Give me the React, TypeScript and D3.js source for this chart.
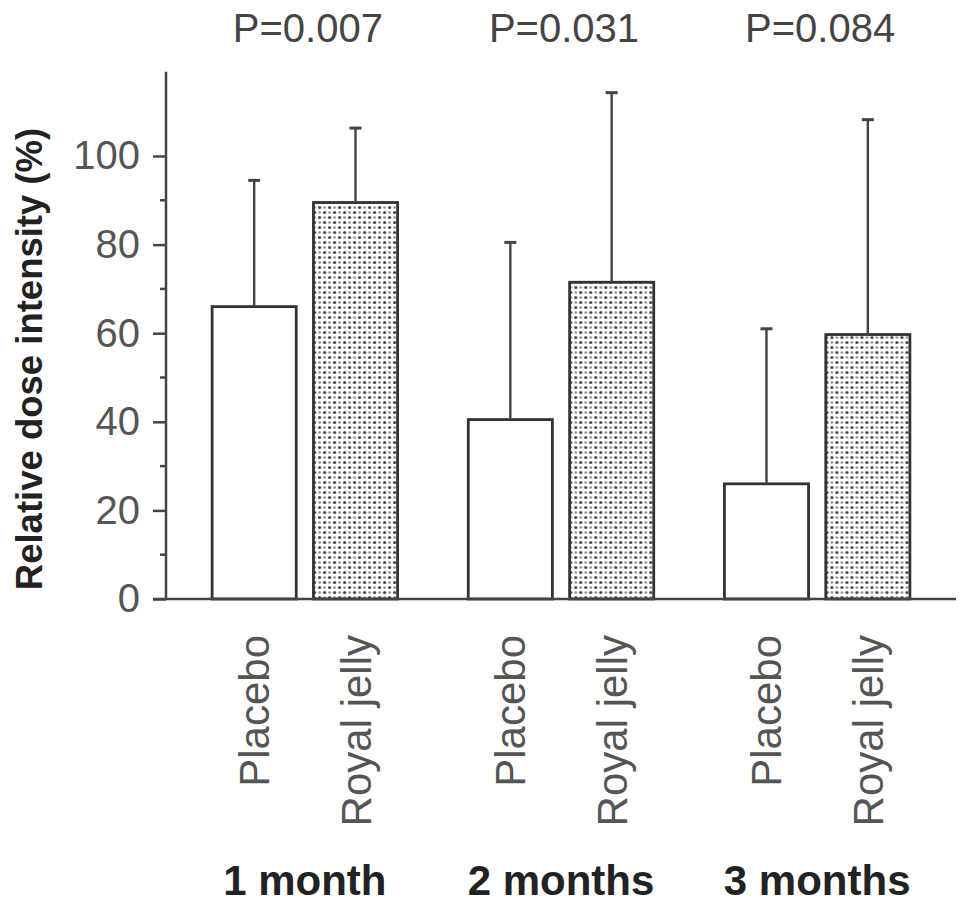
import React, { useEffect, useRef } from 'react';
import * as d3 from 'd3';

const groups = ['1 month', '2 months', '3 months'];
const treatments = ['Placebo', 'Royal jelly'];
const placeboMean = [66, 40.5, 26];
const placeboSD = [28.5, 40, 35];
const royalMean = [89.5, 71.5, 59.7];
const royalSD = [16.8, 42.8, 48.5];
const pValues = ['P=0.007', 'P=0.031', 'P=0.084'];
const majorTicks = [0, 20, 40, 60, 80, 100];
const minorTicks = [10, 30, 50, 70, 90];

interface BarDatum {
  group: string;
  treatment: string;
  mean: number;
  sd: number;
}

const App: React.FC = () => {
  const svgRef = useRef<SVGSVGElement>(null);

  useEffect(() => {
    if (!svgRef.current) return;
    const width = 969;
    const height = 911;
    const font = "'Liberation Sans', Arial, sans-serif";

    const data: BarDatum[] = groups.flatMap((g, i) => [
      { group: g, treatment: treatments[0], mean: placeboMean[i], sd: placeboSD[i] },
      { group: g, treatment: treatments[1], mean: royalMean[i], sd: royalSD[i] },
    ]);

    const axisX = 166;
    const svg = d3.select(svgRef.current);
    svg.selectAll('*').remove();
    svg.attr('width', width).attr('height', height);

    // dotted fill
    const pat = svg
      .append('defs')
      .append('pattern')
      .attr('id', 'dots')
      .attr('patternUnits', 'userSpaceOnUse')
      .attr('width', 10)
      .attr('height', 10);
    pat.append('rect').attr('width', 10).attr('height', 10).attr('fill', '#fff');
    [[2.5, 2.5], [7.5, 7.5]].forEach(([cx, cy]) =>
      pat.append('circle').attr('cx', cx).attr('cy', cy).attr('r', 1.6).attr('fill', '#444')
    );
    [[7.5, 2.5], [2.5, 7.5]].forEach(([cx, cy]) =>
      pat.append('circle').attr('cx', cx).attr('cy', cy).attr('r', 1.3).attr('fill', '#888')
    );

    const x0 = d3
      .scaleBand<string>()
      .domain(groups)
      .range([axisX, 956])
      .paddingInner(0.276)
      .paddingOuter(0.18);

    const x1 = d3
      .scaleBand<string>()
      .domain(treatments)
      .range([0, x0.bandwidth()])
      .paddingInner(0.17);

    const y = d3.scaleLinear().domain([0, 120]).range([599, 67.4]);

    // y axis
    const yAxis = svg.append('g').attr('transform', `translate(${axisX},0)`);
    yAxis
      .call(d3.axisLeft(y).tickValues(majorTicks).tickSize(13).tickPadding(13).tickFormat(d3.format('d')))
      .call((g) => g.select('.domain').remove());
    yAxis.selectAll('line').attr('stroke', '#444').attr('stroke-width', 2.5);
    yAxis
      .selectAll('text')
      .attr('font-family', font)
      .attr('font-size', 40)
      .attr('fill', '#555');
    yAxis
      .selectAll('.minor')
      .data(minorTicks)
      .enter()
      .append('line')
      .attr('x1', -6)
      .attr('x2', 0)
      .attr('y1', (d) => y(d))
      .attr('y2', (d) => y(d))
      .attr('stroke', '#444')
      .attr('stroke-width', 2.5);
    yAxis
      .append('line')
      .attr('x1', 0)
      .attr('x2', 0)
      .attr('y1', y(0))
      .attr('y2', y(119))
      .attr('stroke', '#444')
      .attr('stroke-width', 2.5);

    // bars
    const barG = svg
      .selectAll('.grp')
      .data(groups)
      .enter()
      .append('g')
      .attr('transform', (g) => `translate(${x0(g)},0)`);

    barG
      .selectAll('rect')
      .data((g) => data.filter((d) => d.group === g))
      .enter()
      .append('rect')
      .attr('x', (d) => x1(d.treatment)!)
      .attr('y', (d) => y(d.mean))
      .attr('width', x1.bandwidth())
      .attr('height', (d) => y(0) - y(d.mean))
      .attr('fill', (d) => (d.treatment === 'Placebo' ? '#fff' : 'url(#dots)'))
      .attr('stroke', '#333')
      .attr('stroke-width', 2.8);

    const cx = (d: BarDatum) => x1(d.treatment)! + x1.bandwidth() / 2;
    const errG = barG
      .selectAll('.err')
      .data((g) => data.filter((d) => d.group === g))
      .enter()
      .append('g');
    errG
      .append('line')
      .attr('x1', cx)
      .attr('x2', cx)
      .attr('y1', (d) => y(d.mean))
      .attr('y2', (d) => y(d.mean + d.sd))
      .attr('stroke', '#444')
      .attr('stroke-width', 2.4);
    errG
      .append('line')
      .attr('x1', (d) => cx(d) - 6)
      .attr('x2', (d) => cx(d) + 6)
      .attr('y1', (d) => y(d.mean + d.sd))
      .attr('y2', (d) => y(d.mean + d.sd))
      .attr('stroke', '#444')
      .attr('stroke-width', 3);

    // treatment labels
    barG
      .selectAll('.tl')
      .data((g) => data.filter((d) => d.group === g))
      .enter()
      .append('text')
      .attr('transform', (d) => `translate(${cx(d) + 15},635) rotate(-90)`)
      .attr('text-anchor', 'end')
      .attr('font-family', font)
      .attr('font-size', 42)
      .attr('fill', '#555')
      .text((d) => d.treatment);

    // x axis line
    svg
      .append('line')
      .attr('x1', 153)
      .attr('x2', 956)
      .attr('y1', y(0))
      .attr('y2', y(0))
      .attr('stroke', '#444')
      .attr('stroke-width', 2.5);

    // group labels
    svg
      .selectAll('.gl')
      .data(groups)
      .enter()
      .append('text')
      .attr('x', (g) => x0(g)! + x0.bandwidth() / 2)
      .attr('y', 895)
      .attr('text-anchor', 'middle')
      .attr('font-family', font)
      .attr('font-weight', 'bold')
      .attr('font-size', 42)
      .attr('fill', '#222')
      .text((g) => g);

    // p values
    svg
      .selectAll('.pv')
      .data(groups)
      .enter()
      .append('text')
      .attr('x', (g) => x0(g)! + x0.bandwidth() / 2 + 3)
      .attr('y', 42)
      .attr('text-anchor', 'middle')
      .attr('font-family', font)
      .attr('font-size', 40)
      .attr('fill', '#444')
      .text((g, i) => pValues[i]);

    // y title
    svg
      .append('text')
      .attr('transform', 'translate(42,359) rotate(-90)')
      .attr('text-anchor', 'middle')
      .attr('font-family', font)
      .attr('font-weight', 'bold')
      .attr('font-size', 36.5)
      .attr('fill', '#222')
      .text('Relative dose intensity (%)');
  }, []);

  return <svg ref={svgRef} style={{ position: 'absolute', left: 0, top: 0, background: '#fff' }} />;
};

export default App;
